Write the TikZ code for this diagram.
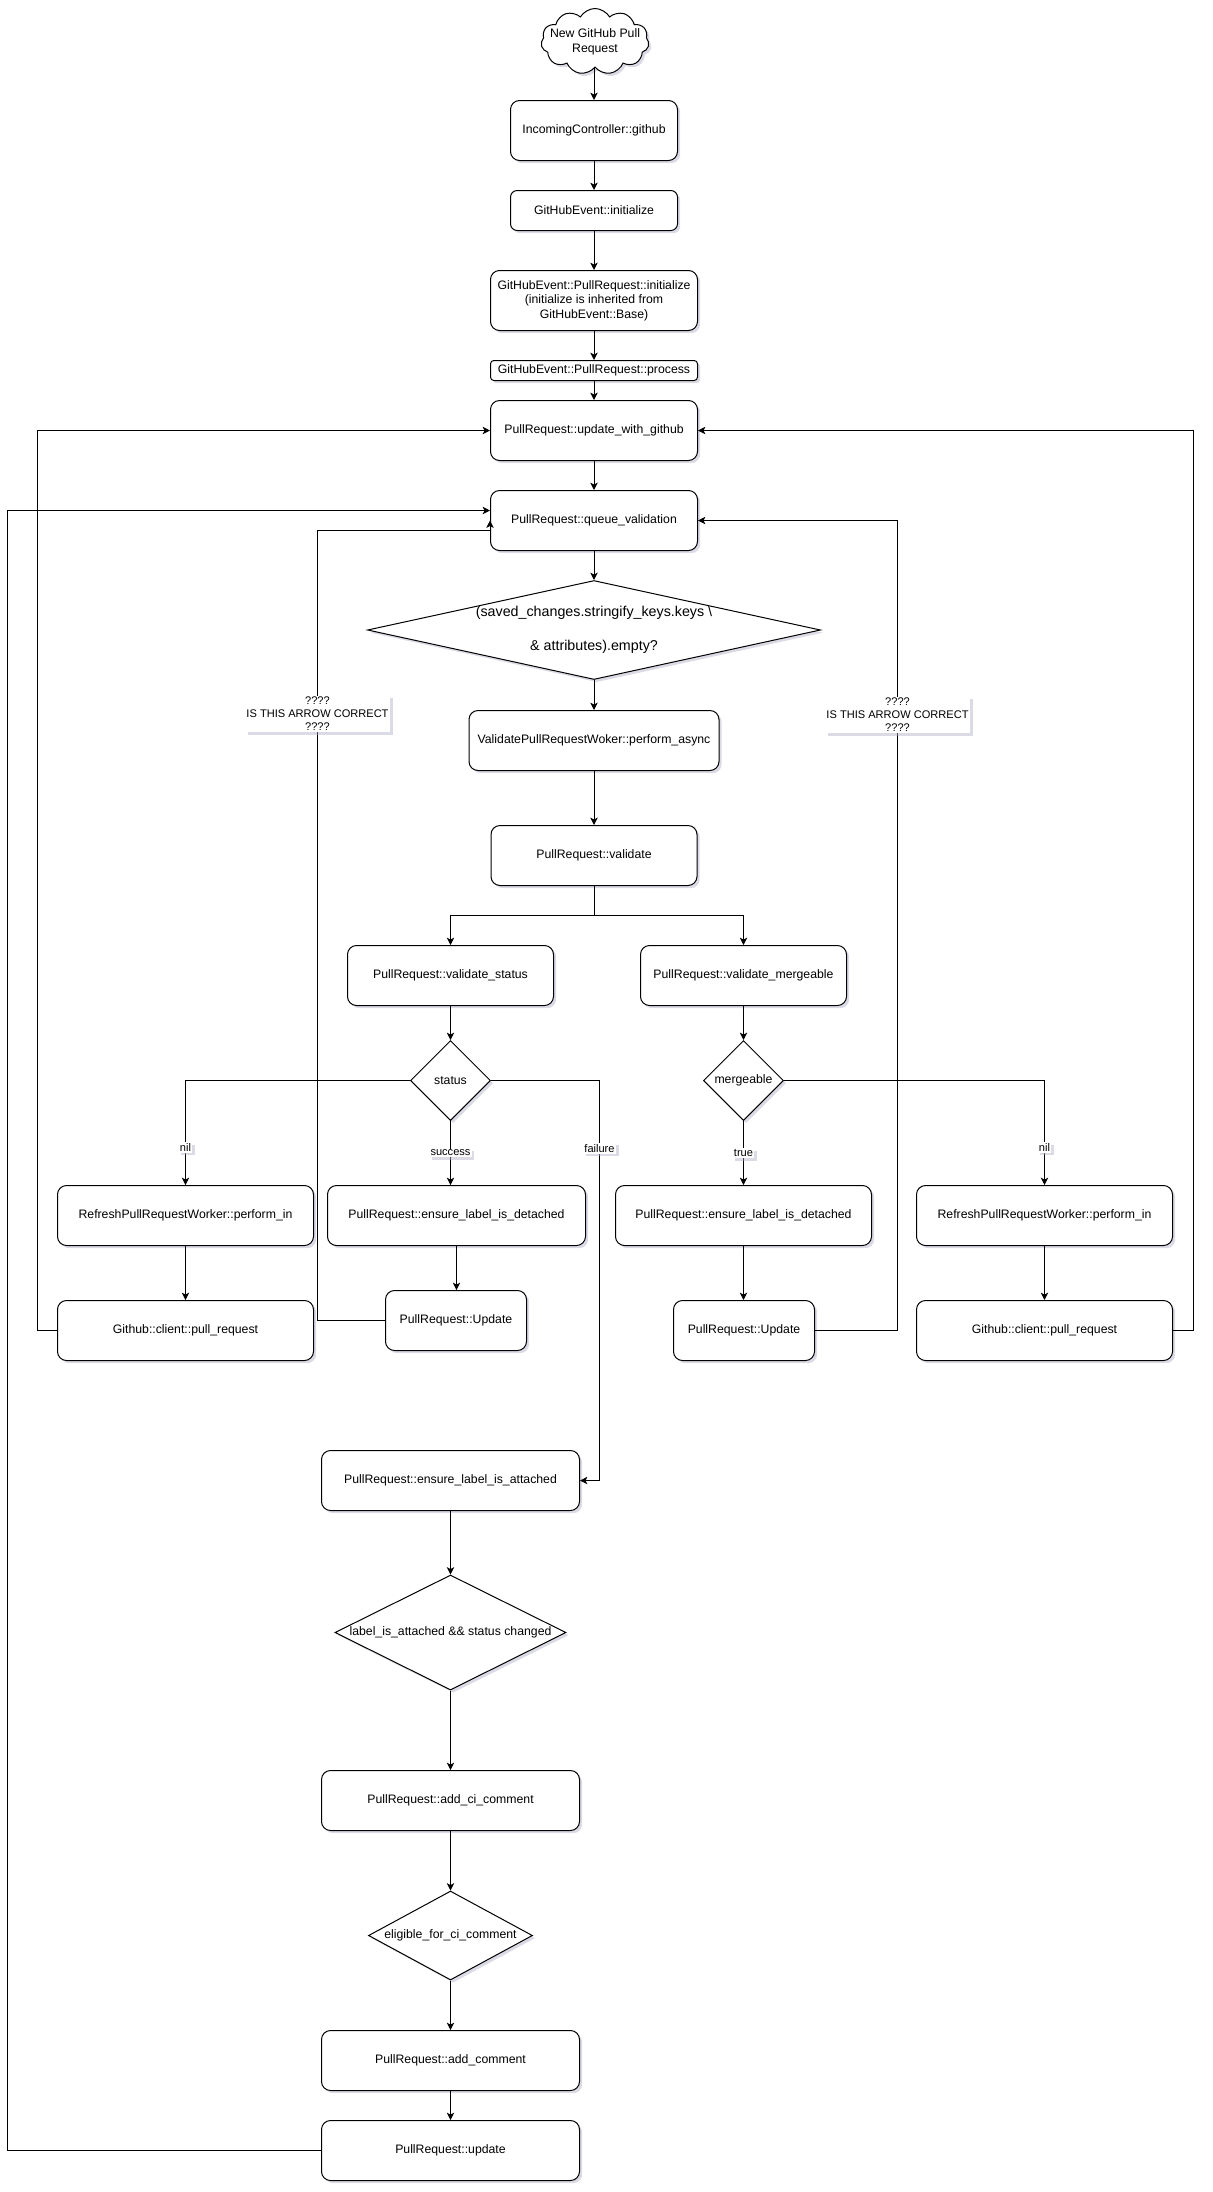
\documentclass[tikz,border=0pt]{standalone}
\usepackage{fontspec}
\setmainfont{Liberation Sans}
\usetikzlibrary{shapes.geometric,shapes.symbols,arrows.meta,shadows,calc}
\definecolor{shadowc}{RGB}{175,175,200}
\begin{document}
\begin{tikzpicture}[x=0.75pt,y=-0.75pt,
  every node/.style={font=\fontsize{9.2pt}{10.8pt}\selectfont, inner sep=0pt},
  sz/.style 2 args={minimum width=#1*0.75pt, minimum height=#2*0.75pt},
  shad/.style={drop shadow={shadow xshift=2pt, shadow yshift=-2pt, fill=shadowc, opacity=0.45}},
  box/.style={draw, line width=0.75pt, rounded corners=6.75pt, fill=white, shad, align=center},
  dia/.style={draw, diamond, line width=0.75pt, fill=white, shad, align=center},
  arr/.style={draw, line width=0.75pt, -{Stealth[length=5.5pt,width=5.5pt,inset=1.4pt]}},
  lne/.style={draw, line width=0.75pt},
  lbl/.style={fill=white, font=\fontsize{8.3pt}{9.75pt}\selectfont, inner sep=1pt, align=center, shad},
]
\useasboundingbox (0,0) rectangle (1213,2192);

% nodes
\node[cloud, cloud puffs=11, cloud puff arc=120, aspect=1.6, draw, line width=0.75pt, fill=white, shad, sz={108}{66},
  label={[align=center, font=\fontsize{9.2pt}{11.25pt}\selectfont]center:New GitHub Pull\\Request}] (start) at (595,41.5) {};
\node[box, sz={167}{60}] (ic) at (594,130.5) {IncomingController::github};
\node[box, sz={167}{40}, rounded corners=5pt] (gei) at (594,210.5) {GitHubEvent::initialize};
\node[box, sz={207}{60}] (gpri) at (594,300.5) {GitHubEvent::PullRequest::initialize\\(initialize is inherited from\\GitHubEvent::Base)};
\node[box, sz={207}{20}, rounded corners=2.5pt] (gprp) at (594,370.5) {GitHubEvent::PullRequest::process};
\node[box, sz={207}{60}] (uwg) at (594,430.5) {PullRequest::update\_with\_github};
\node[box, sz={207}{60}] (qv) at (594,520.5) {PullRequest::queue\_validation};
\node[dia, sz={453}{99}, aspect=4.6, font=\fontsize{10.7pt}{12.6pt}\selectfont] (d1) at (594,630) {(saved\_changes.stringify\_keys.keys \textbackslash\\[12.6pt]\& attributes).empty?};
\node[box, sz={250}{60}] (vprw) at (594,740.5) {ValidatePullRequestWoker::perform\_async};
\node[box, sz={206}{60}] (val) at (594,855.5) {PullRequest::validate};
\node[box, sz={206}{60}] (vs) at (450.5,975.5) {PullRequest::validate\_status};
\node[box, sz={206}{60}] (vm) at (743.5,975.5) {PullRequest::validate\_mergeable};
\node[dia, sz={80}{80}] (ds) at (450.5,1080.5) {status};
\node[dia, sz={80}{80}] (dm) at (743.5,1080.5) {mergeable};
\node[box, sz={256}{60}] (rl) at (185.5,1215.5) {RefreshPullRequestWorker::perform\_in};
\node[box, sz={256}{60}] (gl) at (185.5,1330.5) {Github::client::pull\_request};
\node[box, sz={258}{60}] (edl) at (456.5,1215.5) {PullRequest::ensure\_label\_is\_detached};
\node[box, sz={141}{60}] (ul) at (456,1320.5) {PullRequest::Update};
\node[box, sz={256}{60}] (edr) at (743.5,1215.5) {PullRequest::ensure\_label\_is\_detached};
\node[box, sz={141}{60}] (ur) at (744,1330.5) {PullRequest::Update};
\node[box, sz={256}{60}] (rr) at (1044.5,1215.5) {RefreshPullRequestWorker::perform\_in};
\node[box, sz={256}{60}] (gr) at (1044.5,1330.5) {Github::client::pull\_request};
\node[box, sz={258}{60}] (ela) at (450.5,1480.5) {PullRequest::ensure\_label\_is\_attached};
\node[dia, sz={231}{115}, aspect=2] (d3) at (450.5,1632.5) {label\_is\_attached \&\& status changed};
\node[box, sz={258}{60}] (aci) at (450.5,1800.5) {PullRequest::add\_ci\_comment};
\node[dia, sz={164}{89}, aspect=1.84] (d4) at (450.5,1935.5) {eligible\_for\_ci\_comment};
\node[box, sz={258}{60}] (ac) at (450.5,2060.5) {PullRequest::add\_comment};
\node[box, sz={258}{60}] (upd) at (450.5,2150.5) {PullRequest::update};

% helper coordinates
\coordinate (sp) at (594,915.5);
\coordinate (fx) at (599.5,1080.5);
\coordinate (c1) at (317.5,530.5);
\coordinate (c2) at (37.5,430.5);
\coordinate (c3) at (897.5,520.5);
\coordinate (c4) at (1193.5,430.5);
\coordinate (c5) at (7.5,510.5);

% main chain
\draw[arr] (ic.north |- start.south) -- (ic.north);
\draw[arr] (ic.south) -- (gei.north);
\draw[arr] (gei.south) -- (gpri.north);
\draw[arr] (gpri.south) -- (gprp.north);
\draw[arr] (gprp.south) -- (uwg.north);
\draw[arr] (uwg.south) -- (qv.north);
\draw[arr] (qv.south) -- (d1.north);
\draw[arr] (d1.south) -- (vprw.north);
\draw[arr] (vprw.south) -- (val.north);
\draw[lne] (val.south) -- (sp);
\draw[arr] (sp) -| (vs.north);
\draw[arr] (sp) -| (vm.north);
\draw[arr] (vs.south) -- (ds.north);
\draw[arr] (vm.south) -- (dm.north);

% status branch
\draw[arr] (ds.west) -| node[lbl, pos=0.82]{nil} (rl.north);
\draw[arr] (ds.south) -- node[lbl]{success} (ds.south |- edl.north);
\draw[arr] (ds.east) -- (fx) -- node[lbl, pos=0.169]{failure} (fx |- ela.east) -- (ela.east);
\draw[arr] (edl.south) -- (edl.south |- ul.north);
\draw[arr] (ul.west) -| node[lbl, pos=0.884]{????\\IS THIS ARROW CORRECT\\????} (c1) -- (qv.west |- c1) -- (qv.west);
\draw[arr] (rl.south) -- (gl.north);
\draw[arr] (gl.west) -| (c2) -- (uwg.west);

% mergeable branch
\draw[arr] (dm.south) -- node[lbl]{true} (dm.south |- edr.north);
\draw[arr] (dm.east) -| node[lbl, pos=0.82]{nil} (rr.north);
\draw[arr] (edr.south) -- (edr.south |- ur.north);
\draw[arr] (ur.east) -| node[lbl, pos=0.88]{????\\IS THIS ARROW CORRECT\\????} (c3) -- (qv.east);
\draw[arr] (rr.south) -- (gr.north);
\draw[arr] (gr.east) -| (c4) -- (uwg.east);

% lower chain
\draw[arr] (ela.south) -- (d3.north);
\draw[arr] (d3.south) -- (aci.north);
\draw[arr] (aci.south) -- (d4.north);
\draw[arr] (d4.south) -- (ac.north);
\draw[arr] (ac.south) -- (upd.north);
\draw[arr] (upd.west) -| (c5) -- (qv.west |- c5);
\end{tikzpicture}
\end{document}
